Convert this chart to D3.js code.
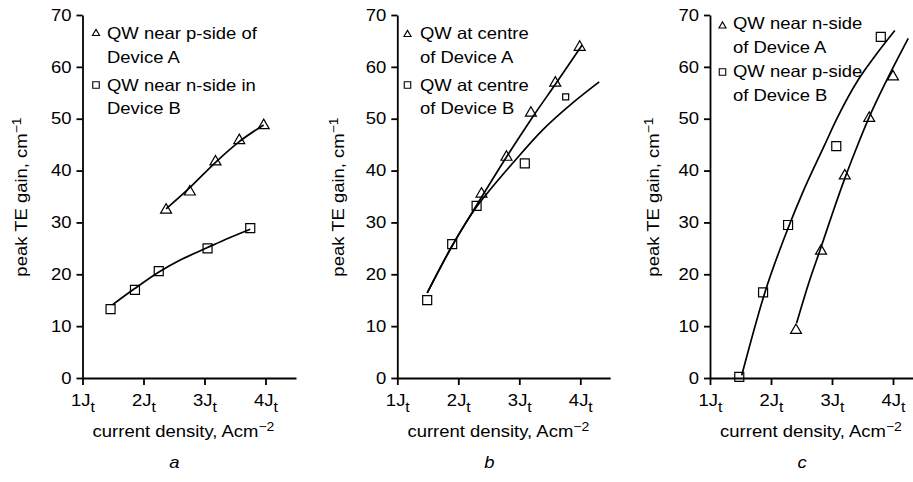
<!DOCTYPE html>
<html><head><meta charset="utf-8">
<script src="https://cdn.jsdelivr.net/npm/d3@7"></script>
<style>
html,body{margin:0;padding:0;background:#fff;}
svg{display:block;}
text{font-family:"Liberation Sans",Arial,Helvetica,sans-serif;fill:#000;}
</style></head><body>
<svg id="chart" width="913" height="482"></svg>
<script>
// ---------- data ----------
const xTickValues = [1, 2, 3, 4];
const xTickLabels = ["1J", "2J", "3J", "4J"];
const xSubscript = "t";
const yTickValues = [0, 10, 20, 30, 40, 50, 60, 70];
const panelLetters = ["a", "b", "c"];
const xTitle = "current density, Acm";
const xTitleSup = "\u22122";
const yTitle = "peak TE gain, cm";
const yTitleSup = "\u22121";

// panel a
const legendA = [["QW near p-side of", "Device A"], ["QW near n-side in", "Device B"]];
const aTriangles = [[2.37, 32.4], [2.76, 35.9], [3.18, 41.7], [3.57, 45.8], [3.97, 48.7]];
const aSquares = [[1.46, 13.3], [1.86, 17.0], [2.25, 20.6], [3.05, 25.0], [3.75, 28.9]];
const aCurveTri = [[2.37, 32.6], [2.75, 36.6], [3.19, 41.7], [3.56, 45.5], [3.97, 48.8]];
const aCurveSq = [[1.49, 14.1], [1.85, 17.2], [2.26, 20.5], [2.61, 22.8], [3.04, 25.1], [3.4, 27.0], [3.75, 28.7]];

// panel b
const legendB = [["QW at centre", "of Device A"], ["QW at centre", "of Device B"]];
const bTriangles = [[2.38, 35.5], [2.79, 42.6], [3.19, 51.1], [3.59, 56.9], [3.99, 63.8]];
const bSquares = [[1.49, 15.0], [1.9, 25.8], [2.3, 33.2], [3.09, 41.4], [3.76, 54.2]];
const bCurveTri = [[1.49, 16.4], [1.9, 25.5], [2.3, 33.3], [2.8, 42.8], [3.2, 50.0], [3.6, 56.8], [4.03, 64.2]];
const bCurveSq = [[1.49, 16.4], [1.9, 25.5], [2.3, 33.0], [2.5, 36.0], [2.89, 41.4], [3.38, 47.8], [3.87, 53.0], [4.31, 57.1]];

// panel c
const legendC = [["QW near n-side", "of Device A"], ["QW near p-side", "of Device B"]];
const cTriangles = [[2.41, 9.2], [2.82, 24.5], [3.21, 39.0], [3.61, 50.1], [4.0, 58.1]];
const cSquares = [[1.48, 0.2], [1.87, 16.5], [2.28, 29.5], [3.07, 44.7], [3.80, 65.8]];
const cCurveTri = [[2.42, 10.6], [2.61, 18.0], [2.82, 25.2], [3.0, 31.5], [3.21, 38.5], [3.41, 44.6], [3.61, 50.3], [3.9, 57.5], [4.25, 65.5]];
const cCurveSq = [[1.52, 0.5], [1.9, 16.5], [2.3, 29.5], [2.51, 35.5], [2.87, 44.7], [3.08, 50.0], [3.43, 57.5], [3.7, 62.0], [4.03, 67.0]];

const panels = [
  {tri: aTriangles, sq: aSquares, curves: [aCurveTri, aCurveSq], legend: legendA},
  {tri: bTriangles, sq: bSquares, curves: [bCurveTri, bCurveSq], legend: legendB},
  {tri: cTriangles, sq: cSquares, curves: [cCurveTri, cCurveSq], legend: legendC}
];

// ---------- layout / style ----------
const S = 1.12;      // horizontal glyph stretch
const FS = 16.5;     // main font size
const PXJ = 61;      // pixels per J_t
const layout = [
  {ax: 82.5, xmax: 4.5, mx: 96, tx: 107, base: [39, 63, 91, 114], triY: 33.5, sqY: 85, titleX: 27, smallSq: -1},
  {ax: 397.3, xmax: 4.49, mx: 407.5, tx: 420, base: [39, 63, 91, 114], triY: 34.5, sqY: 85, titleX: 344, smallSq: 4},
  {ax: 710, xmax: 4.33, mx: 722.5, tx: 733, base: [29, 53, 77, 101], triY: 26, sqY: 72, titleX: 659, smallSq: -1}
];

const svg = d3.select("#chart");
const y = d3.scaleLinear().domain([0, 70]).range([378, 15]);

panels.forEach((p, i) => {
  const L = layout[i];
  const x = d3.scaleLinear().domain([1, L.xmax]).range([L.ax, L.ax + PXJ * (L.xmax - 1)]);
  const g = svg.append("g");

  // x axis
  const xa = g.append("g")
    .attr("transform", `translate(0,${y(0)})`)
    .call(d3.axisBottom(x).tickValues(xTickValues).tickSize(7).tickSizeOuter(0).tickPadding(9)
      .tickFormat((d, k) => xTickLabels[k]));
  xa.selectAll(".tick text")
    .attr("font-size", FS)
    .attr("transform", `scale(${S},1)`)
    .each(function () {
      d3.select(this).append("tspan").attr("font-size", 14).attr("dy", 6.5).text(xSubscript);
    });

  // y axis
  const ya = g.append("g")
    .attr("transform", `translate(${L.ax},0)`)
    .call(d3.axisLeft(y).tickValues(yTickValues).tickSize(6).tickSizeOuter(0).tickPadding(5));
  ya.selectAll(".tick text")
    .attr("font-size", FS)
    .attr("x", -11 / S)
    .attr("transform", `scale(${S},1)`);

  g.selectAll(".domain, .tick line").attr("stroke", "#000").attr("stroke-width", 1.8);
  g.selectAll("g").attr("font-family", null).attr("font-size", null);

  // axis titles
  const xt = g.append("text")
    .attr("transform", `translate(${L.ax + 101},437) scale(${S},1)`)
    .attr("text-anchor", "middle").attr("font-size", FS);
  xt.append("tspan").text(xTitle);
  xt.append("tspan").attr("font-size", 12.5).attr("dy", -6.5).text(xTitleSup);

  const yt = g.append("text")
    .attr("transform", `translate(${L.titleX},197) rotate(-90) scale(${S},1)`)
    .attr("text-anchor", "middle").attr("font-size", FS);
  yt.append("tspan").text(yTitle);
  yt.append("tspan").attr("font-size", 12.5).attr("dy", -6.5).text(yTitleSup);

  // panel letter
  g.append("text")
    .attr("transform", `translate(${L.ax + 92},468) scale(${S},1)`)
    .attr("text-anchor", "middle").attr("font-size", FS).attr("font-style", "italic")
    .text(panelLetters[i]);

  // curves
  const line = d3.line().x(d => x(d[0])).y(d => y(d[1])).curve(d3.curveMonotoneX);
  g.selectAll("path.curve").data(p.curves).join("path")
    .attr("class", "curve")
    .attr("d", line)
    .attr("fill", "none").attr("stroke", "#000").attr("stroke-width", 1.7);

  // markers
  const tri = d3.symbol().type(d3.symbolTriangle).size(52);
  g.selectAll("path.tri").data(p.tri).join("path")
    .attr("class", "tri")
    .attr("d", tri)
    .attr("transform", d => `translate(${x(d[0])},${y(d[1])})`)
    .attr("fill", "none").attr("stroke", "#000").attr("stroke-width", 1.2);

  g.selectAll("path.sq").data(p.sq).join("path")
    .attr("class", "sq")
    .attr("d", (d, k) => d3.symbol().type(d3.symbolSquare).size(k === L.smallSq ? 36 : 81)())
    .attr("transform", d => `translate(${x(d[0])},${y(d[1])})`)
    .attr("fill", "none").attr("stroke", "#000").attr("stroke-width", 1.2);

  // legend
  g.append("path").attr("d", d3.symbol().type(d3.symbolTriangle).size(22)())
    .attr("transform", `translate(${L.mx},${L.triY})`)
    .attr("fill", "none").attr("stroke", "#000").attr("stroke-width", 1.1);
  g.append("path").attr("d", d3.symbol().type(d3.symbolSquare).size(42)())
    .attr("transform", `translate(${L.mx},${L.sqY})`)
    .attr("fill", "none").attr("stroke", "#000").attr("stroke-width", 1.1);
  const lines = p.legend[0].concat(p.legend[1]);
  lines.forEach((t, k) => {
    g.append("text")
      .attr("transform", `translate(${L.tx},${L.base[k]}) scale(${S},1)`)
      .attr("font-size", FS)
      .text(t);
  });
});
</script>
</body></html>
